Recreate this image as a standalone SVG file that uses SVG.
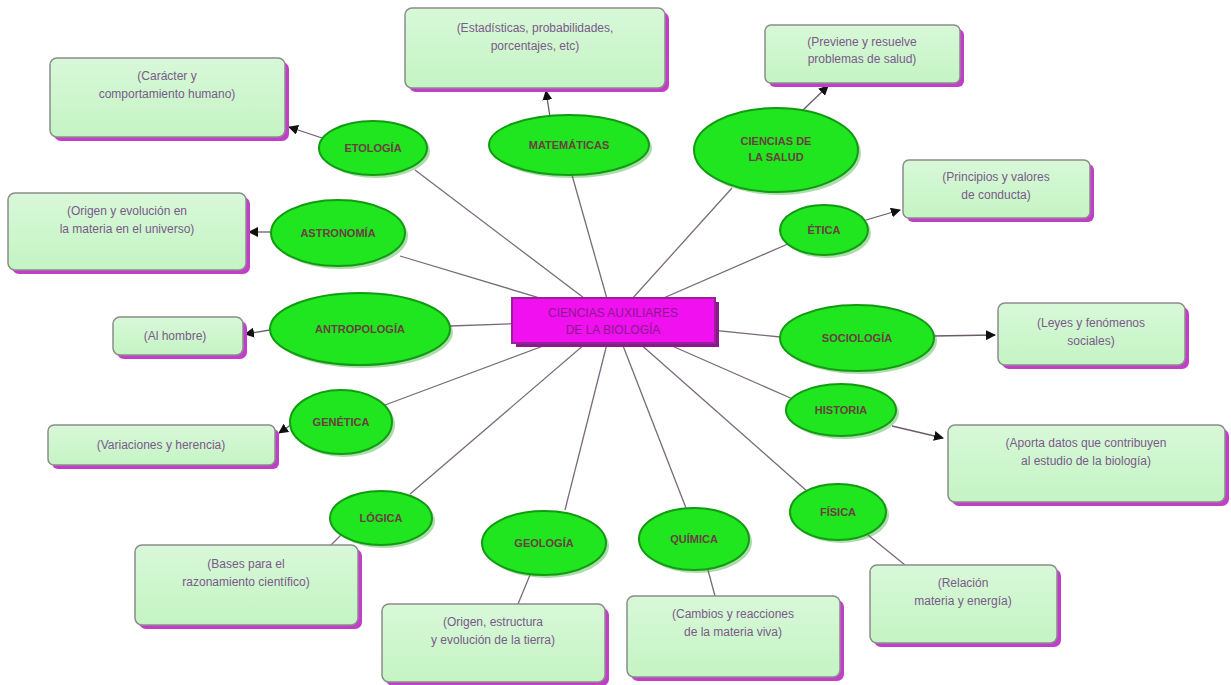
<svg xmlns="http://www.w3.org/2000/svg" width="1231" height="685" viewBox="0 0 1231 685">
<style>
.bg{fill:#ffffff}
.line{stroke:#7a6a7a;stroke-width:1.3;fill:none}
.arr{stroke:#6a5a6a;stroke-width:1.3;fill:none;marker-end:url(#ah)}
.sh{fill:#c23ec8}
.box{fill:url(#bg1);stroke:#8c8c8c;stroke-width:1.5}
.ell{fill:#1fe61f;stroke:#139a13;stroke-width:2}
.esh{fill:#0f9a0f;opacity:0.35}
.et{font-family:"Liberation Sans",Arial,sans-serif;font-size:11px;font-weight:bold;fill:#6a4040;text-anchor:middle}
.bt{font-family:"Liberation Sans",Arial,sans-serif;font-size:12px;fill:#7a5a8a;text-anchor:middle}
.ct{font-family:"Liberation Sans",Arial,sans-serif;font-size:12px;fill:#8a1a8a;text-anchor:middle}
</style>
<defs>
<linearGradient id="bg1" x1="0" y1="0" x2="0" y2="1">
<stop offset="0" stop-color="#d8f8d8"/>
<stop offset="1" stop-color="#c4f4c4"/>
</linearGradient>
<marker id="ah" markerWidth="10" markerHeight="10" refX="9" refY="5" orient="auto" markerUnits="userSpaceOnUse">
<path d="M0,0 L10,5 L0,10 Z" fill="#111"/>
</marker>
</defs>
<rect class="bg" x="0" y="0" width="1231" height="685"/>

<g id="connectors">
<line class="line" x1="613" y1="320" x2="415" y2="170"/>
<line class="line" x1="613" y1="320" x2="572" y2="175"/>
<line class="line" x1="613" y1="320" x2="732" y2="188"/>
<line class="line" x1="613" y1="320" x2="790" y2="243"/>
<line class="line" x1="613" y1="320" x2="400" y2="256"/>
<line class="line" x1="613" y1="320" x2="450" y2="326"/>
<line class="line" x1="613" y1="320" x2="780" y2="337"/>
<line class="line" x1="613" y1="320" x2="795" y2="400"/>
<line class="line" x1="613" y1="320" x2="385" y2="405"/>
<line class="line" x1="613" y1="320" x2="410" y2="494"/>
<line class="line" x1="613" y1="320" x2="565" y2="510"/>
<line class="line" x1="613" y1="320" x2="686" y2="508"/>
<line class="line" x1="613" y1="320" x2="808" y2="492"/>
<line class="arr" x1="322" y1="138" x2="289" y2="127"/>
<line class="arr" x1="550" y1="117" x2="546" y2="91"/>
<line class="arr" x1="803" y1="110" x2="828" y2="86"/>
<line class="arr" x1="866" y1="220" x2="900" y2="210"/>
<line class="arr" x1="272" y1="232" x2="249" y2="232"/>
<line class="arr" x1="270" y1="330" x2="245" y2="334"/>
<line class="arr" x1="933" y1="336" x2="995" y2="335"/>
<line class="arr" x1="892" y1="426" x2="943" y2="438"/>
<line class="arr" x1="298" y1="420" x2="279" y2="433"/>
<line class="line" x1="342" y1="534" x2="328" y2="548"/>
<line class="line" x1="530" y1="575" x2="518" y2="604"/>
<line class="line" x1="708" y1="570" x2="715" y2="596"/>
<line class="line" x1="868" y1="535" x2="905" y2="565"/>
</g>

<g id="center">
<rect x="516" y="302" width="203" height="45" fill="#8a1a8a"/>
<rect x="512" y="298" width="203" height="45" fill="#f010f0" stroke="#9a209a" stroke-width="2"/>
<text class="ct" x="613" y="317">CIENCIAS AUXILIARES</text>
<text class="ct" x="613" y="334">DE LA BIOLOGÍA</text>
</g>

<g id="etologia">
<ellipse class="esh" cx="376" cy="151" rx="54" ry="27"/>
<ellipse class="ell" cx="373" cy="148" rx="54" ry="27"/>
<text class="et" x="373" y="152">ETOLOGÍA</text>
</g>
<g id="box-etologia">
<rect class="sh" x="54" y="62" width="235" height="79" rx="7"/>
<rect class="box" x="50" y="58" width="235" height="79" rx="7"/>
<text class="bt" x="167" y="80">(Carácter y</text>
<text class="bt" x="167" y="98">comportamiento humano)</text>
</g>

<g id="matematicas">
<ellipse class="esh" cx="572" cy="148" rx="80" ry="30"/>
<ellipse class="ell" cx="569" cy="145" rx="80" ry="30"/>
<text class="et" x="569" y="149">MATEMÁTICAS</text>
</g>
<g id="box-matematicas">
<rect class="sh" x="409" y="12" width="260" height="80" rx="7"/>
<rect class="box" x="405" y="8" width="260" height="80" rx="7"/>
<text class="bt" x="535" y="32">(Estadísticas, probabilidades,</text>
<text class="bt" x="535" y="50">porcentajes, etc)</text>
</g>

<g id="salud">
<ellipse class="esh" cx="779" cy="153" rx="82" ry="42"/>
<ellipse class="ell" cx="776" cy="150" rx="82" ry="42"/>
<text class="et" x="776" y="145">CIENCIAS DE</text>
<text class="et" x="776" y="161">LA SALUD</text>
</g>
<g id="box-salud">
<rect class="sh" x="769" y="29" width="195" height="58" rx="6"/>
<rect class="box" x="765" y="25" width="195" height="58" rx="6"/>
<text class="bt" x="862" y="46">(Previene y resuelve</text>
<text class="bt" x="862" y="63">problemas de salud)</text>
</g>

<g id="etica">
<ellipse class="esh" cx="827" cy="233" rx="44" ry="25"/>
<ellipse class="ell" cx="824" cy="230" rx="44" ry="25"/>
<text class="et" x="824" y="234">ÉTICA</text>
</g>
<g id="box-etica">
<rect class="sh" x="907" y="164" width="187" height="58" rx="6"/>
<rect class="box" x="903" y="160" width="187" height="58" rx="6"/>
<text class="bt" x="996" y="181">(Principios y valores</text>
<text class="bt" x="996" y="199">de conducta)</text>
</g>

<g id="astronomia">
<ellipse class="esh" cx="341" cy="236" rx="67" ry="33"/>
<ellipse class="ell" cx="338" cy="233" rx="67" ry="33"/>
<text class="et" x="338" y="237">ASTRONOMÍA</text>
</g>
<g id="box-astronomia">
<rect class="sh" x="12" y="197" width="238" height="77" rx="7"/>
<rect class="box" x="8" y="193" width="238" height="77" rx="7"/>
<text class="bt" x="127" y="215">(Origen y evolución en</text>
<text class="bt" x="127" y="233">la materia en el universo)</text>
</g>

<g id="antropologia">
<ellipse class="esh" cx="363" cy="332" rx="90" ry="36"/>
<ellipse class="ell" cx="360" cy="329" rx="90" ry="36"/>
<text class="et" x="360" y="333">ANTROPOLOGÍA</text>
</g>
<g id="box-antropologia">
<rect class="sh" x="117" y="321" width="130" height="38" rx="7"/>
<rect class="box" x="113" y="317" width="130" height="38" rx="7"/>
<text class="bt" x="175" y="340">(Al hombre)</text>
</g>

<g id="sociologia">
<ellipse class="esh" cx="860" cy="341" rx="77" ry="33"/>
<ellipse class="ell" cx="857" cy="338" rx="77" ry="33"/>
<text class="et" x="857" y="342">SOCIOLOGÍA</text>
</g>
<g id="box-sociologia">
<rect class="sh" x="1002" y="307" width="187" height="62" rx="7"/>
<rect class="box" x="998" y="303" width="187" height="62" rx="7"/>
<text class="bt" x="1091" y="327">(Leyes y fenómenos</text>
<text class="bt" x="1091" y="345">sociales)</text>
</g>

<g id="historia">
<ellipse class="esh" cx="844" cy="413" rx="55" ry="26"/>
<ellipse class="ell" cx="841" cy="410" rx="55" ry="26"/>
<text class="et" x="841" y="414">HISTORIA</text>
</g>
<g id="box-historia">
<rect class="sh" x="952" y="429" width="277" height="77" rx="7"/>
<rect class="box" x="948" y="425" width="277" height="77" rx="7"/>
<text class="bt" x="1086" y="447">(Aporta datos que contribuyen</text>
<text class="bt" x="1086" y="465">al estudio de la biología)</text>
</g>

<g id="genetica">
<ellipse class="esh" cx="344" cy="425" rx="51" ry="32"/>
<ellipse class="ell" cx="341" cy="422" rx="51" ry="32"/>
<text class="et" x="341" y="426">GENÉTICA</text>
</g>
<g id="box-genetica">
<rect class="sh" x="52" y="429" width="227" height="40" rx="6"/>
<rect class="box" x="48" y="425" width="227" height="40" rx="6"/>
<text class="bt" x="161" y="449">(Variaciones y herencia)</text>
</g>

<g id="logica">
<ellipse class="esh" cx="384" cy="521" rx="51" ry="27"/>
<ellipse class="ell" cx="381" cy="518" rx="51" ry="27"/>
<text class="et" x="381" y="522">LÓGICA</text>
</g>
<g id="box-logica">
<rect class="sh" x="139" y="549" width="223" height="80" rx="7"/>
<rect class="box" x="135" y="545" width="223" height="80" rx="7"/>
<text class="bt" x="246" y="568">(Bases para el</text>
<text class="bt" x="246" y="586">razonamiento científico)</text>
</g>

<g id="geologia">
<ellipse class="esh" cx="547" cy="546" rx="62" ry="32"/>
<ellipse class="ell" cx="544" cy="543" rx="62" ry="32"/>
<text class="et" x="544" y="547">GEOLOGÍA</text>
</g>
<g id="box-geologia">
<rect class="sh" x="386" y="608" width="223" height="78" rx="7"/>
<rect class="box" x="382" y="604" width="223" height="78" rx="7"/>
<text class="bt" x="493" y="626">(Origen, estructura</text>
<text class="bt" x="493" y="644">y evolución de la tierra)</text>
</g>

<g id="quimica">
<ellipse class="esh" cx="697" cy="542" rx="55" ry="31"/>
<ellipse class="ell" cx="694" cy="539" rx="55" ry="31"/>
<text class="et" x="694" y="543">QUÍMICA</text>
</g>
<g id="box-quimica">
<rect class="sh" x="631" y="600" width="213" height="81" rx="7"/>
<rect class="box" x="627" y="596" width="213" height="81" rx="7"/>
<text class="bt" x="733" y="618">(Cambios y reacciones</text>
<text class="bt" x="733" y="636">de la materia viva)</text>
</g>

<g id="fisica">
<ellipse class="esh" cx="841" cy="515" rx="48" ry="28"/>
<ellipse class="ell" cx="838" cy="512" rx="48" ry="28"/>
<text class="et" x="838" y="516">FÍSICA</text>
</g>
<g id="box-fisica">
<rect class="sh" x="874" y="569" width="187" height="78" rx="7"/>
<rect class="box" x="870" y="565" width="187" height="78" rx="7"/>
<text class="bt" x="963" y="587">(Relación</text>
<text class="bt" x="963" y="605">materia y energía)</text>
</g>
</svg>
